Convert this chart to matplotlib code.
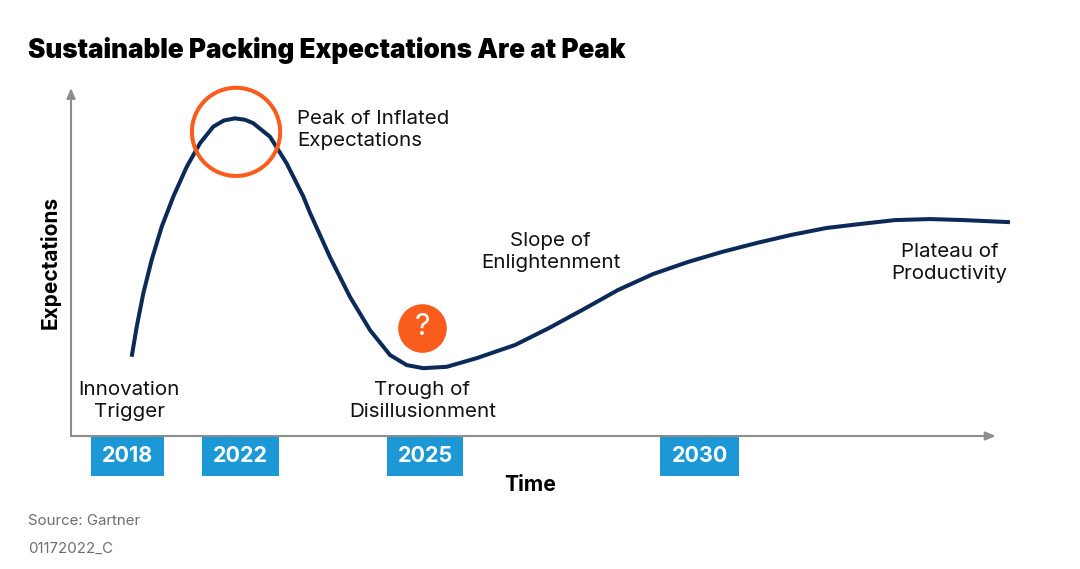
import matplotlib
matplotlib.use("Agg")
import matplotlib.pyplot as plt

plt.rcParams['font.family'] = ['Inter', 'DejaVu Sans']

# hype curve (x: time 0-100, y: expectations 0-100)
curve_x = [6.58, 7.13, 7.84, 8.75, 9.84, 11.10, 12.55, 13.99, 15.43, 16.59, 17.79,
           18.87, 19.77, 21.58, 23.39, 25.20, 25.92, 28.09, 30.26, 32.43, 34.60,
           36.41, 38.21, 40.75, 44.00, 48.16, 51.84, 55.64, 59.33, 63.12, 66.92,
           70.61, 74.40, 78.09, 81.89, 85.68, 89.37, 93.17, 96.85, 101.84]
curve_y = [22.9, 31.6, 41.2, 50.9, 60.5, 69.2, 77.8, 84.6, 89.4, 91.2, 91.8,
           91.4, 90.4, 86.5, 78.8, 69.2, 64.5, 51.7, 40.2, 30.6, 23.4,
           20.5, 19.6, 20.0, 22.5, 26.3, 31.2, 36.7, 42.2, 46.8, 50.3,
           53.2, 55.8, 58.1, 60.1, 61.3, 62.4, 62.7, 62.4, 61.8]

years = ['2018', '2022', '2025', '2030']
year_pos = [6.1, 18.4, 38.4, 68.2]
year_width = [7.9, 8.3, 8.3, 8.6]

phases = ['Innovation\nTrigger', 'Peak of Inflated\nExpectations', 'Trough of\nDisillusionment',
          'Slope of\nEnlightenment', 'Plateau of\nProductivity']
phase_x = [6.3, 24.5, 38.1, 52.0, 95.3]
phase_y = [10.1, 88.4, 10.1, 53.2, 50.0]
phase_ha = ['center', 'left', 'center', 'center', 'center']

peak_ring = (17.9, 87.9)
question = (38.1, 31.2)

navy = '#0b2a57'
orange = '#fa5c1e'
blue = '#1b98d5'
grey = '#8c8c8c'

fig = plt.figure(figsize=(10.8, 5.69), dpi=100)
ax = fig.add_axes([71 / 1080, 133 / 569, 922 / 1080, 346 / 569])
ax.set_xlim(0, 100)
ax.set_ylim(0, 100)
ax.axis('off')

# axes arrows
for tip in [(100.3, 0), (0, 100.6)]:
    ax.annotate('', xy=tip, xytext=(0, 0),
                arrowprops=dict(arrowstyle='-|>,head_length=0.6,head_width=0.25', color=grey, lw=1.5,
                                shrinkA=0, shrinkB=0),
                annotation_clip=False)

ax.plot(curve_x, curve_y, color=navy, lw=2.9, solid_capstyle='butt', solid_joinstyle='round',
        clip_on=False, zorder=3)

ax.scatter([peak_ring[0]], [peak_ring[1]], s=63.5 ** 2, facecolors='none', edgecolors=orange,
           linewidths=2.9, zorder=4, clip_on=False)
ax.scatter([question[0]], [question[1]], s=35 ** 2, color=orange, linewidths=0, zorder=4)
ax.text(question[0], question[1] + 0.3, '?', color='white', fontsize=22, ha='center', va='center', zorder=5)

# year boxes under the axis
ax.bar(year_pos, [-11.2] * len(years), width=year_width, bottom=-0.3, color=blue, clip_on=False, zorder=2)
for yr, xp in zip(years, year_pos):
    ax.text(xp, -5.9, yr, color='white', fontsize=15.5, fontweight='bold', ha='center', va='center')

for lab, xp, yp, ha in zip(phases, phase_x, phase_y, phase_ha):
    ax.text(xp, yp, lab, fontsize=14.8, ha=ha, va='center', linespacing=1.3, color='#111111')

fig.text(28 / 1080, 1 - 50 / 569, 'Sustainable Packing Expectations Are at Peak',
         fontsize=18.8, fontweight='black', ha='left', va='center', color='black')
fig.text(50 / 1080, 1 - 262 / 569, 'Expectations', rotation=90, fontsize=15, fontweight='bold',
         ha='center', va='center')
fig.text(530 / 1080, 1 - 485 / 569, 'Time', fontsize=15.3, fontweight='bold', ha='center', va='center')
fig.text(28 / 1080, 1 - 521 / 569, 'Source: Gartner', fontsize=10.8, color='#6e6e6e', ha='left', va='center')
fig.text(28 / 1080, 1 - 549 / 569, '01172022_C', fontsize=10.8, color='#6e6e6e', ha='left', va='center')

fig.savefig('out.png', dpi=100)
